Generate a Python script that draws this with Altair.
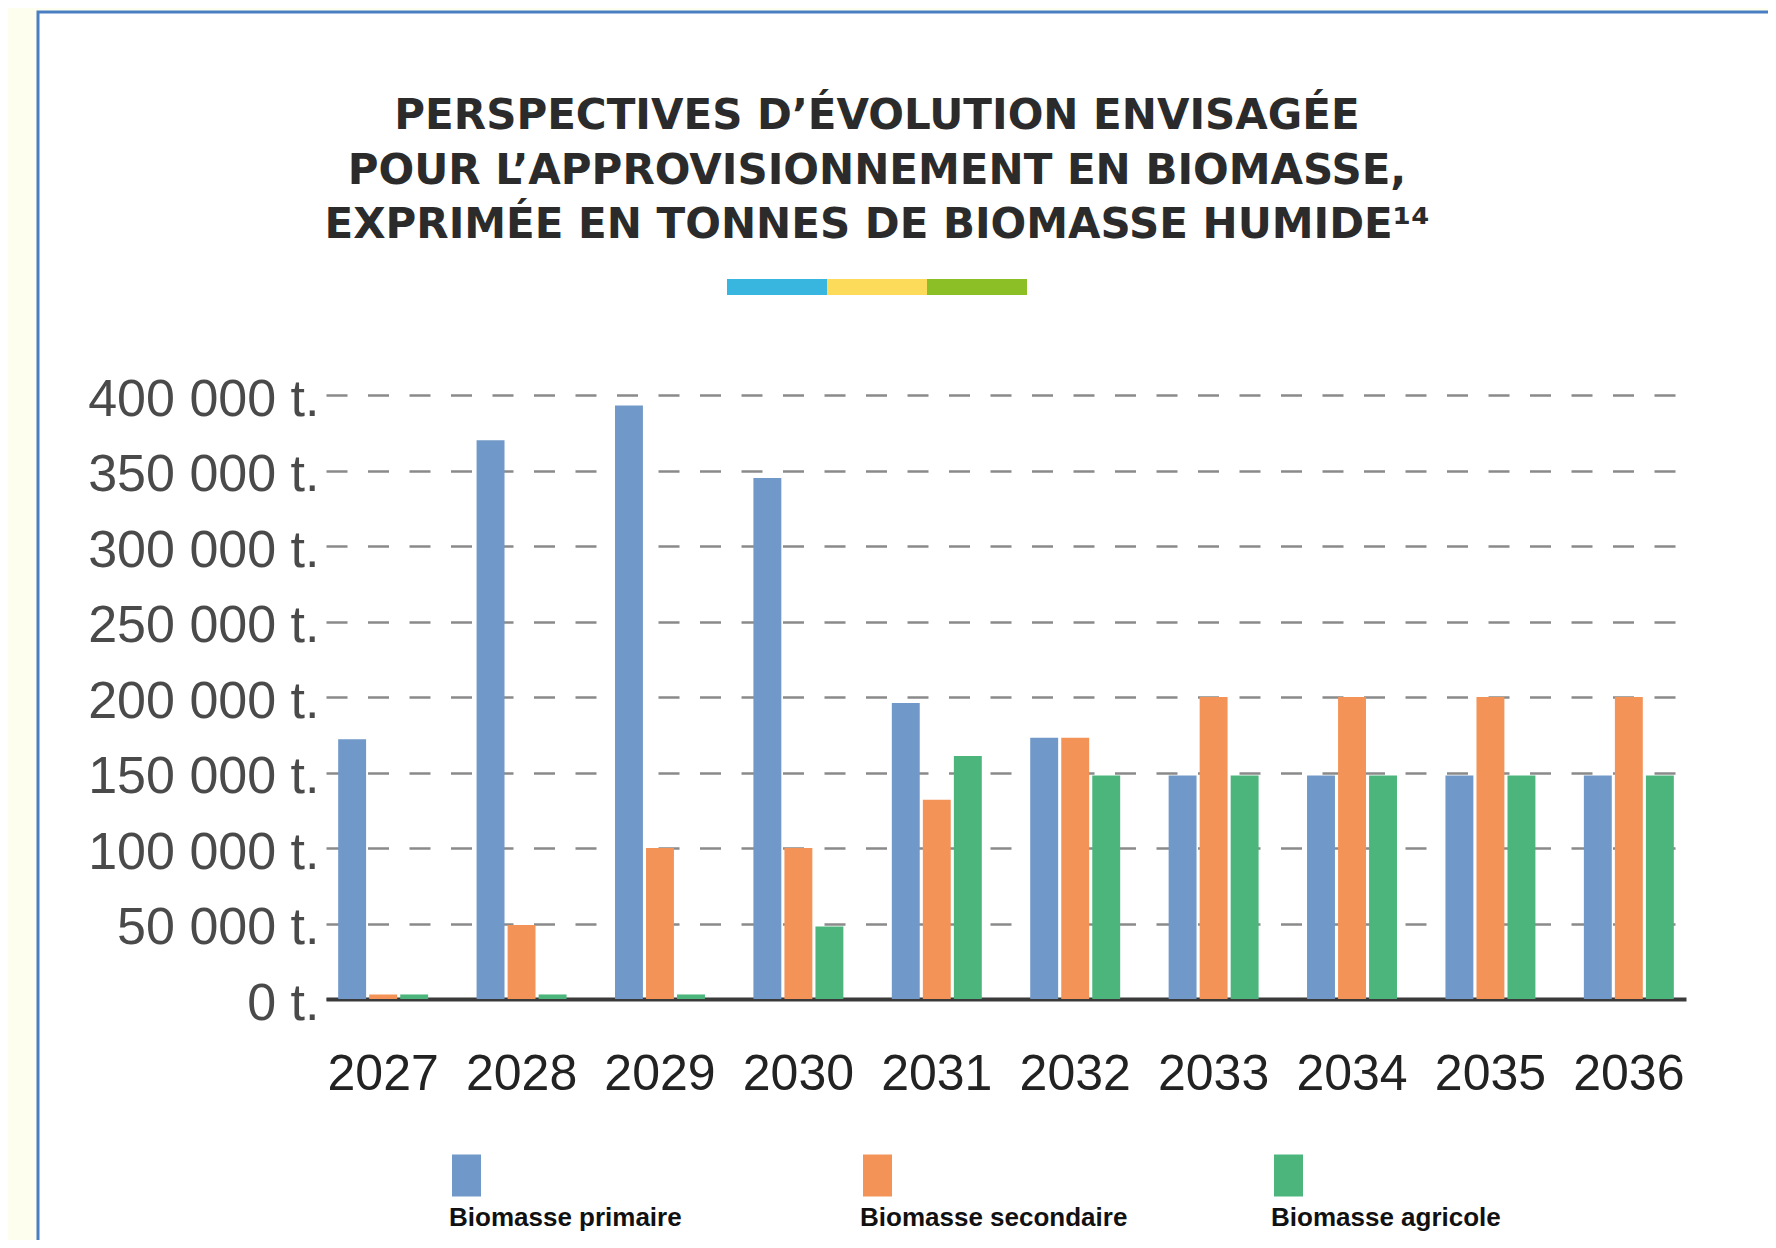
import altair as alt
import pandas as pd

years = ["2027", "2028", "2029", "2030", "2031", "2032", "2033", "2034", "2035", "2036"]
series = ["Biomasse primaire", "Biomasse secondaire", "Biomasse agricole"]
colors = ["#7098C8", "#F39358", "#4BB57C"]
primaire = [172000, 370000, 393000, 345000, 196000, 173000, 148000, 148000, 148000, 148000]
secondaire = [3000, 49000, 100000, 100000, 132000, 173000, 200000, 200000, 200000, 200000]
agricole = [3000, 3000, 3000, 48000, 161000, 148000, 148000, 148000, 148000, 148000]
y_ticks = [0, 50000, 100000, 150000, 200000, 250000, 300000, 350000, 400000]
title_lines = [
    "PERSPECTIVES D\u2019\u00c9VOLUTION ENVISAG\u00c9E",
    "POUR L\u2019APPROVISIONNEMENT EN BIOMASSE,",
    "EXPRIM\u00c9E EN TONNES DE BIOMASSE HUMIDE\u00b9\u2074",
]
stripe_colors = ["#38B6DF", "#FCDB5A", "#8CBF26"]

rows = []
for i, yr in enumerate(years):
    for s, vals in zip(series, [primaire, secondaire, agricole]):
        rows.append({"annee": yr, "serie": s, "tonnes": vals[i]})
df = pd.DataFrame(rows)
one = pd.DataFrame({"k": [0]})

PLOT_W, PLOT_H = 1360, 604

bars = alt.Chart(df).mark_bar().encode(
    x=alt.X(
        "annee:N",
        sort=years,
        scale=alt.Scale(paddingInner=0.35, paddingOuter=0.088),
        axis=alt.Axis(
            title=None, ticks=False, labelAngle=0, labelFont="Liberation Sans",
            labelFontSize=50, labelColor="#222222", labelPadding=50,
            domainColor="#3a3a3a", domainWidth=4, grid=False,
        ),
    ),
    xOffset=alt.XOffset("serie:N", sort=series, scale=alt.Scale(domain=series, paddingInner=0.1)),
    y=alt.Y(
        "tonnes:Q",
        scale=alt.Scale(domain=[0, 400000], nice=False),
        axis=alt.Axis(
            title=None, values=y_ticks, ticks=False, domain=False,
            labelExpr="replace(format(datum.value, ','), ',', ' ') + ' t.'",
            labelFont="Liberation Sans", labelFontSize=52, labelColor="#4a4a4a",
            labelPadding=7, labelOffset=4, labelLimit=400, grid=True,
            gridColor="#8a8a8a", gridWidth=2.5, gridDash=[21, 20.5],
        ),
    ),
    color=alt.Color(
        "serie:N",
        sort=series,
        scale=alt.Scale(domain=series, range=colors),
        legend=alt.Legend(
            title=None, orient="none", legendX=97, legendY=797,
            direction="horizontal", columns=3, gridAlign="all", columnPadding=117,
            symbolType="M1.6,-5.05H4.5V-0.85H1.6Z", symbolSize=400,
            symbolStrokeWidth=0, symbolOpacity=1, labelOffset=0,
            labelBaseline="top", labelFont="Liberation Sans",
            labelFontSize=26, labelFontWeight="bold", labelColor="#111111",
            padding=0, labelLimit=0,
        ),
    ),
)

# decorative page frame (cream margin + blue border) and coloured stripe under the title
cream_left = alt.Chart(one).mark_rect(fill="#FEFEEF").encode(
    x=alt.value(-326), x2=alt.value(-289), y=alt.value(-395), y2=alt.value(860))
cream_top = alt.Chart(one).mark_rect(fill="#FEFEEF").encode(
    x=alt.value(-326), x2=alt.value(1460), y=alt.value(-395), y2=alt.value(-384))
border = alt.Chart(one).mark_rect(fillOpacity=0, stroke="#4A7EC2", strokeWidth=3).encode(
    x=alt.value(-288), x2=alt.value(1500), y=alt.value(-383), y2=alt.value(900))
stripes = [
    alt.Chart(one).mark_rule(color=c, strokeWidth=16).encode(
        x=alt.value(401 + 100 * i), x2=alt.value(501 + 100 * i), y=alt.value(-108))
    for i, c in enumerate(stripe_colors)
]

chart = alt.layer(cream_left, cream_top, border, *stripes, bars).properties(
    width=PLOT_W,
    height=PLOT_H,
    autosize=alt.AutoSizeParams(type="none"),
    padding={"left": 318, "top": 387, "right": 82, "bottom": 241},
    background="#FFFFFF",
    title=alt.TitleParams(
        text=title_lines, anchor="middle", frame="group", dx=-129, offset=0, dy=247,
        font="DejaVu Sans", fontSize=42, fontWeight="bold", color="#2b2b2b",
        lineHeight=54.5,
    ),
).configure_view(strokeWidth=0)

chart.save("out.html", embed_options={"renderer": "svg", "actions": False})
